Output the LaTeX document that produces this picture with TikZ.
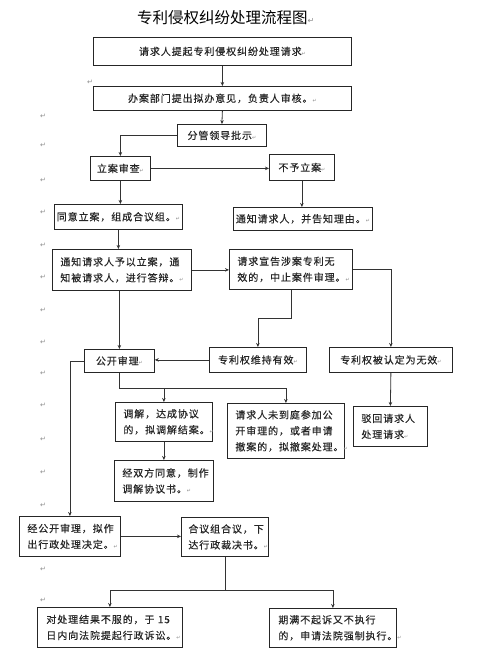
\documentclass[tikz,border=0pt]{standalone}
\usepackage{fontspec}
\setmainfont{Liberation Sans}
\newfontfamily\cjk[LetterSpace=9,FakeBold=0.3]{Noto Sans CJK SC}
\newfontfamily\cjktitle{Noto Sans CJK SC}
\newfontfamily\symf{DejaVu Sans}
\usetikzlibrary{arrows.meta}
\newcommand\pmk{{\symf\color{black!45}\fontsize{5}{5}\selectfont ↵}}
\begin{document}
\begin{tikzpicture}[x=1pt,y=-1pt,
  box/.style={draw=black!85, line width=0.8pt, inner sep=0pt, anchor=north west,
    font=\cjk\fontsize{10}{16}\selectfont, text=black!85, align=center},
  mbox/.style={box, align=left},
  arr/.style={draw=black!80, line width=0.8pt, -{Stealth[length=4pt,width=3.5pt]}},
  ln/.style={draw=black!80, line width=0.8pt},
  rm/.style={font=\symf\fontsize{7}{7}\selectfont, text=black!45, inner sep=0pt}]
\useasboundingbox (0,0) rectangle (479,658);
\fill[white] (0,0) rectangle (479,658);
% title
\node[anchor=west, inner sep=0pt, font=\cjktitle\fontsize{15.5}{16}\selectfont] (title) at (137,18) {专利侵权纠纷处理流程图{\symf\color{black!45}\fontsize{8}{8}\selectfont ↵}};
% boxes
\node[box, minimum width=258, minimum height=28] (b1) at (93,37) {请求人提起专利侵权纠纷处理请求\pmk};
\node[box, minimum width=258, minimum height=24] (b2) at (93,86) {办案部门提出拟办意见，负责人审核。\pmk};
\node[box, minimum width=89, minimum height=22] (b3) at (177,124) {分管领导批示\pmk};
\node[box, minimum width=60, minimum height=24] (b4) at (90,156) {立案审查\pmk};
\node[box, minimum width=65, minimum height=26] (b5) at (269,154) {不予立案\pmk};
\node[box, minimum width=128, minimum height=25] (b6) at (54,204) {同意立案，组成合议组。\pmk};
\node[box, minimum width=139, minimum height=23] (b7) at (233,207) {通知请求人，并告知理由。\pmk};
\node[mbox, minimum width=139, minimum height=41, text width=139] (b8) at (52,249) {\hspace*{8pt}通知请求人予以立案，通\\\hspace*{8pt}知被请求人，进行答辩。\pmk};
\node[mbox, minimum width=123, minimum height=40, text width=123] (b9) at (229,249) {\hspace*{8pt}请求宣告涉案专利无\\\hspace*{8pt}效的，中止案件审理。\pmk};
\node[box, minimum width=97, minimum height=25] (b10) at (209,347) {专利权维持有效\pmk};
\node[box, minimum width=123, minimum height=25] (b11) at (329,347) {专利权被认定为无效\pmk};
\node[box, minimum width=70, minimum height=23] (b12) at (84,349) {公开审理\pmk};
\node[mbox, minimum width=74, minimum height=40, text width=74] (b13) at (353,406) {\hspace*{8pt}驳回请求人\\\hspace*{8pt}处理请求\pmk};
\node[mbox, minimum width=97, minimum height=39, text width=97] (b14) at (115,402) {\hspace*{8pt}调解，达成协议\\\hspace*{8pt}的，拟调解结案。\pmk};
\node[mbox, minimum width=117, minimum height=55, text width=117] (b15) at (227,403) {\hspace*{8pt}请求人未到庭参加公\\\hspace*{8pt}开审理的，或者申请\\\hspace*{8pt}撤案的，拟撤案处理。\pmk};
\node[mbox, minimum width=101, minimum height=40, text width=101] (b16) at (19,516) {\hspace*{8pt}经公开审理，拟作\\\hspace*{8pt}出行政处理决定。\pmk};
\node[mbox, minimum width=99, minimum height=41, text width=99] (b17) at (114,460) {\hspace*{8pt}经双方同意，制作\\\hspace*{8pt}调解协议书。\pmk};
\node[mbox, minimum width=87, minimum height=39, text width=87] (b18) at (181,517) {\hspace*{7pt}合议组合议，下\\\hspace*{7pt}达行政裁决书。\pmk};
\node[mbox, minimum width=145, minimum height=40, text width=145] (b19) at (37,607) {\hspace*{9pt}对处理结果不服的，于 15\\\hspace*{9pt}日内向法院提起行政诉讼。\pmk};
\node[mbox, minimum width=127, minimum height=39, text width=127] (b20) at (269,608) {\hspace*{9pt}期满不起诉又不执行\\\hspace*{9pt}的，申请法院强制执行。\pmk};
% connectors
\draw[arr] (b1.south) -- (b2.north);
\draw[arr] (b2.south) -- (b3.north);
\draw[arr] (b3.west) -| (b4.north);
\draw[arr] (b4.east) -- (b4.east -| b5.west);
\draw[arr] (b4.south) -- (b4.south |- b6.north);
\draw[arr] (b5.south) -- (b5.south |- b7.north);
\draw[arr] (b6.south) -- (b6.south |- b8.north);
\draw[arr] (b8.east) -- (b8.east -| b9.west);
\draw[arr] (b9.east) -| (b11.north);
\draw[arr] (b9.south) -- ++(0,29) -| (b10.north);
\draw[arr] (b12.north |- b8.south) -- (b12.north);
\draw[arr] (b10.west) -- (b10.west -| b12.east);
\draw[arr] (b11.south) -- (b13.north);
\draw[ln] (b12.south) -- ++(0,16) coordinate (j1);
\draw[arr] (j1) -| (b14.north);
\draw[arr] (j1) -| (b15.north);
\draw[arr] (b12.west) -| (b16.north);
\draw[arr] (b14.south) -- (b14.south |- b17.north);
\draw[arr] (b16.east) -- (b16.east -| b18.west);
\draw[ln] (b18.south) -- ++(0,34) coordinate (j2);
\draw[arr] (j2) -| (b19.north);
\draw[arr] (j2) -| (b20.north);
% paragraph marks
\foreach \i/\p in {1/{(90,82)},2/{(43,116)},3/{(43,145)},4/{(43,180)},5/{(43,212)},6/{(43,245)},7/{(43,277)},8/{(43,310)},9/{(43,342)},10/{(43,373)},11/{(43,405)},12/{(43,439)},13/{(43,472)},14/{(43,505)},15/{(43,569)},16/{(43,600)}}
  \node[rm] (r\i) at \p {↵};
\end{tikzpicture}
\end{document}
